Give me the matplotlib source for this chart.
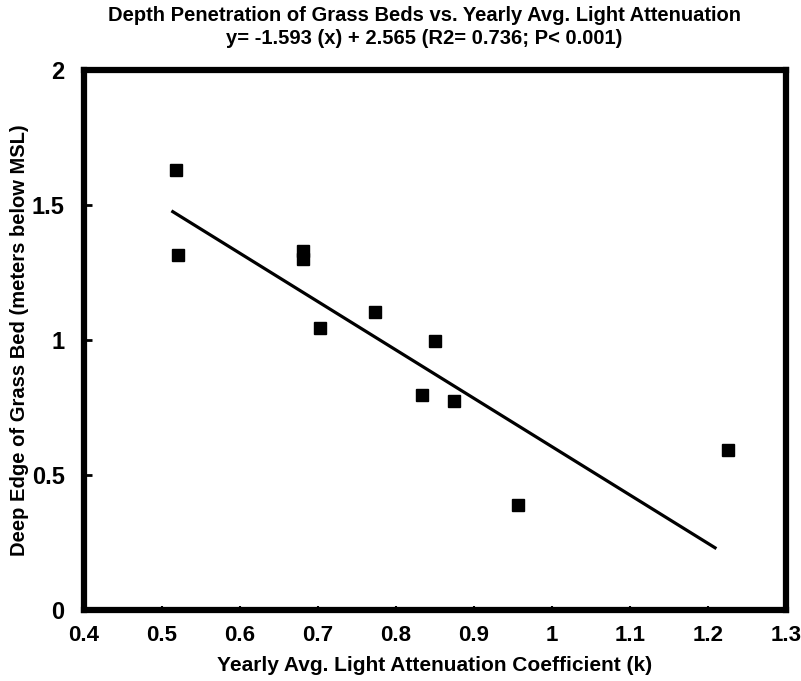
import numpy as np
import matplotlib
matplotlib.use('Agg')
import matplotlib.pyplot as plt

plt.rcParams['font.family'] = ['Liberation Sans', 'DejaVu Sans']
plt.rcParams['font.weight'] = 'bold'

# data
k = [0.518, 0.520, 0.681, 0.681, 0.703, 0.773, 0.850, 0.833, 0.874, 0.956, 1.226]
depth = [1.632, 1.317, 1.330, 1.300, 1.046, 1.103, 0.996, 0.796, 0.775, 0.391, 0.593]

# regression line as drawn
fit_k = [0.512, 1.211]
fit_depth = [1.479, 0.228]

xticks = [0.4, 0.5, 0.6, 0.7, 0.8, 0.9, 1, 1.1, 1.2, 1.3]
xticklabels = ['0.4', '0.5', '0.6', '0.7', '0.8', '0.9', '1', '1.1', '1.2', '1.3']
yticks = [0, 0.5, 1, 1.5, 2]
yticklabels = ['0', '0.5', '1', '1.5', '2']

fig = plt.figure(figsize=(8.01, 6.81), dpi=100)
ax = fig.add_axes([0.105, 0.104, 0.876, 0.793])

ax.plot(fit_k, fit_depth, color='black', lw=2.3, solid_capstyle='butt')
ax.plot(k, depth, ls='none', marker='s', ms=8, color='black')

ax.set_xlim(0.4, 1.3)
ax.set_ylim(0, 2)
ax.set_xticks(xticks)
ax.set_xticklabels(xticklabels)
ax.set_yticks(yticks)
ax.set_yticklabels(yticklabels)

for s in ax.spines.values():
    s.set_linewidth(4.5)

ax.tick_params(axis='x', direction='in', length=3, width=1.5, labelsize=16, pad=11)
ax.tick_params(axis='y', direction='in', length=6, width=2, labelsize=17, pad=14)

ax.set_xlabel('Yearly Avg. Light Attenuation Coefficient (k)', fontsize=15, fontweight='bold', labelpad=7)
ax.set_ylabel('Deep Edge of Grass Bed (meters below MSL)', fontsize=14.5, fontweight='bold', labelpad=2)

fig.text(0.53, 0.977, 'Depth Penetration of Grass Beds vs. Yearly Avg. Light Attenuation',
         ha='center', va='center', fontsize=14.5, fontweight='bold')
fig.text(0.53, 0.943, 'y= -1.593 (x) + 2.565 (R2= 0.736; P< 0.001)',
         ha='center', va='center', fontsize=14.5, fontweight='bold')

fig.savefig('out.png', dpi=100)
